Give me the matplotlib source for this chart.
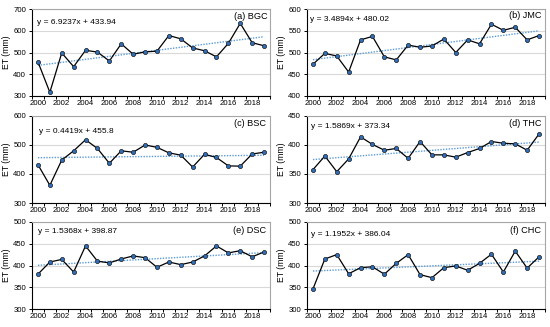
import matplotlib
matplotlib.use("Agg")
import matplotlib.pyplot as plt
import numpy as np

plt.rcParams['font.family'] = ['Liberation Sans', 'DejaVu Sans']

years = list(range(2000, 2020))

bgc = [457, 317, 498, 435, 510, 502, 461, 540, 492, 503, 506, 578, 563, 521, 508, 480, 542, 634, 545, 531]
jmc = [473, 498, 492, 455, 529, 537, 490, 483, 517, 512, 515, 531, 500, 529, 520, 565, 551, 558, 529, 539]
bsc = [432, 361, 448, 480, 518, 488, 437, 480, 475, 500, 492, 473, 465, 424, 468, 457, 428, 427, 469, 475]
thc = [357.5, 381, 354, 376, 414, 401, 391, 394, 377, 406, 383, 383, 379, 387, 394, 406, 403, 402, 391, 419]
dsc = [380, 408, 414, 385, 445, 410, 406, 415, 422, 418, 396, 408, 402, 408, 422, 445, 429, 434, 420, 431]
chc = [346, 415, 425, 381, 395, 397, 380, 405, 425, 379, 372, 395, 399, 389, 405, 426, 385, 433, 394, 420]

labels = ["(a) BGC", "(b) JMC", "(c) BSC", "(d) THC", "(e) DSC", "(f) CHC"]
equations = ["y = 6.9237x + 433.94", "y = 3.4894x + 480.02", "y = 0.4419x + 455.8",
             "y = 1.5869x + 373.34", "y = 1.5368x + 398.87", "y = 1.1952x + 386.04"]
slopes = [6.9237, 3.4894, 0.4419, 1.5869, 1.5368, 1.1952]
intercepts = [433.94, 480.02, 455.8, 373.34, 398.87, 386.04]
ylims = [(300, 700), (400, 600), (300, 600), (300, 450), (300, 500), (300, 500)]
ysteps = [100, 50, 100, 50, 50, 50]
series = [bgc, jmc, bsc, thc, dsc, chc]

eq_pos = [(0.02, 0.84), (0.012, 0.885), (0.03, 0.82), (0.015, 0.885), (0.024, 0.89), (0.015, 0.86)]
lab_pos = [(0.99, 0.91), (0.985, 0.93), (0.985, 0.91), (0.985, 0.91), (0.985, 0.9), (0.985, 0.9)]

W, H = 550, 327
fig = plt.figure(figsize=(W / 100, H / 100), dpi=100)

lefts = [32, 307]
width = 238
tops = [9, 116, 222]
height = 87

for i in range(6):
    r, c = divmod(i, 2)
    l = lefts[c]
    t = tops[r]
    ax = fig.add_axes([l / W, 1 - (t + height) / H, width / W, height / H])
    y = series[i]
    xs = np.arange(1, 21)
    trend = slopes[i] * xs + intercepts[i]
    ax.plot(years, trend, linestyle=(0, (1, 1)), color='#5B9BD5', lw=1.0, zorder=2)
    ax.plot(years, y, color='black', lw=0.9, marker='o', markersize=3.0,
            markerfacecolor='#2F6EBA', markeredgecolor='#1a1a1a', markeredgewidth=0.5, zorder=3)
    ax.set_xlim(1999.5, 2019.5)
    ax.set_ylim(*ylims[i])
    yt = np.arange(ylims[i][0], ylims[i][1] + 1, ysteps[i])
    ax.set_yticks(yt)
    ax.set_xticks(list(range(2000, 2020, 2)))
    ax.set_xticks(np.arange(1999.5, 2020, 1), minor=True)
    ax.tick_params(axis='x', which='major', length=0, labelsize=5.6, pad=3)
    ax.tick_params(axis='x', which='minor', length=2.2, width=0.7, direction='out')
    ax.tick_params(axis='y', which='major', length=2.2, width=0.7, direction='out', labelsize=5.6, pad=2)
    ax.grid(axis='y', color='#D9D9D9', lw=0.8)
    ax.set_axisbelow(True)
    for s in ['left', 'bottom']:
        ax.spines[s].set_color('black')
        ax.spines[s].set_linewidth(0.8)
    for s in ['top', 'right']:
        ax.spines[s].set_color('#A6A6A6')
        ax.spines[s].set_linewidth(0.8)
    ax.set_ylabel("ET (mm)", fontsize=6.2, labelpad=2)
    ax.text(eq_pos[i][0], eq_pos[i][1], equations[i], transform=ax.transAxes,
            fontsize=6.0, ha='left', va='center')
    ax.text(lab_pos[i][0], lab_pos[i][1], labels[i], transform=ax.transAxes,
            fontsize=6.6, ha='right', va='center')

fig.savefig("out.png", dpi=100)
